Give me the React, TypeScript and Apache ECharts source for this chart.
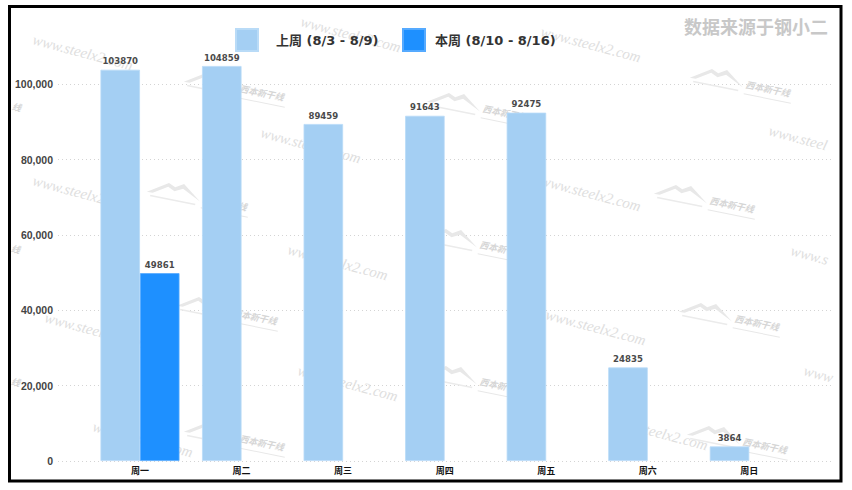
import React, { useEffect, useRef } from "react";
import * as echarts from "echarts";

const categories = ["周一", "周二", "周三", "周四", "周五", "周六", "周日"];
const lastWeekName = "上周 (8/3 - 8/9)";
const thisWeekName = "本周 (8/10 - 8/16)";
const lastWeek = [103870, 104859, 89459, 91643, 92475, 24835, 3864];
const thisWeek: (number | null)[] = [49861, null, null, null, null, null, null];
const yInterval = 20000;
const sourceNote = "数据来源于钢小二";
const watermarkText = "www.steelx2.com";
const watermarkLogoText = "西本新干线";

// [x, y, visible text]
const textMarks: [number, number, string][] = [
  [35, 32, watermarkText], [35, 173, watermarkText], [47, 310, watermarkText], [95, 419, watermarkText],
  [303, 14, watermarkText], [263, 125, watermarkText], [290, 242, watermarkText], [300, 363, watermarkText],
  [543, 24, watermarkText], [543, 173, watermarkText], [548, 307, watermarkText], [610, 412, watermarkText],
  [771, 123, "www.steel"], [793, 243, "www.s"], [806, 363, "www"],
  [13, 102, "线"], [12, 244, "线"], [12, 377, "线"],
];
const logoMarks: [number, number][] = [
  [187, 66], [150, 176], [180, 290], [187, 416],
  [430, 86], [427, 222], [427, 359],
  [693, 62], [657, 178], [682, 296], [690, 419],
];

function wmText(x: number, y: number, t: string) {
  const cjk = t === "线";
  return {
    type: "text", x, y, rotation: cjk ? -0.2 : -0.26, silent: true, z: 1,
    style: {
      text: t,
      font: cjk ? 'italic bold 9px "Noto Sans CJK SC", sans-serif' : 'italic 15px "Liberation Serif", serif',
      fill: cjk ? "#d6d6d6" : "#dedede",
    },
  };
}
function wmLogo(x: number, y: number) {
  return {
    type: "group", x, y, rotation: -0.2, silent: true, z: 1,
    children: [
      { type: "polygon", z: 1, shape: { points: [[0, 16], [20, 3], [27, 6], [35, 1], [54, 15], [35, 6], [27, 10], [20, 7], [6, 16]] }, style: { fill: "#e8e8e8" } },
      { type: "line", z: 1, shape: { x1: 4, y1: 19, x2: 50, y2: 19 }, style: { stroke: "#ebebeb", lineWidth: 1.5 } },
      { type: "text", z: 1, x: 56, y: 7, style: { text: watermarkLogoText, font: 'italic bold 9px "Noto Sans CJK SC", sans-serif', fill: "#d6d6d6" } },
      { type: "line", z: 1, shape: { x1: 56, y1: 21, x2: 104, y2: 21 }, style: { stroke: "#e8e8e8", lineWidth: 1 } },
    ],
  };
}

export default function App() {
  const ref = useRef<HTMLDivElement>(null);
  useEffect(() => {
    if (!ref.current) return;
    const chart = echarts.init(ref.current, null, { renderer: "svg" });
    const yMax = Math.max(...lastWeek, ...(thisWeek.filter((v) => v != null) as number[]));
    const labelStyle = {
      show: true,
      position: "top",
      distance: 4,
      fontSize: 9.5,
      fontWeight: "bold",
      color: "#4a4a4a",
      fontFamily: "'Liberation Sans Narrow', 'DejaVu Sans Condensed', sans-serif",
    };
    const legendText = {
      fontFamily: "'DejaVu Sans', 'Noto Sans CJK SC', sans-serif",
      fontWeight: "bold",
      fontSize: 13,
      color: "#333",
    };
    chart.setOption({
      animation: false,
      backgroundColor: "#fff",
      title: {
        text: sourceNote,
        right: 19,
        top: 12,
        textStyle: { fontSize: 18, fontWeight: "bold", color: "#c8c8c8", fontFamily: "'Noto Sans CJK SC', sans-serif" },
      },
      legend: [
        {
          data: [lastWeekName], left: 230, top: 23, itemWidth: 22, itemHeight: 22, icon: "rect",
          formatter: (n: string) => `{s|}{t|${n}}`,
          textStyle: { ...legendText, rich: { s: { width: 13 }, t: { ...legendText } } },
        },
        {
          data: [thisWeekName], left: 397, top: 23, itemWidth: 22, itemHeight: 22, icon: "rect",
          formatter: (n: string) => `{s|}{t|${n}}`,
          textStyle: { ...legendText, rich: { s: { width: 5 }, t: { ...legendText } } },
        },
      ],
      grid: [
        { left: 58, right: 21, top: 66, bottom: 29 },
        { left: 89.2, right: 51.95, top: 66, bottom: 29 },
      ],
      xAxis: [
        { gridIndex: 0, type: "value", show: false, min: 0, max: 1 },
        {
          gridIndex: 1, type: "category", data: categories,
          axisLine: { show: false }, axisTick: { show: false },
          axisLabel: { fontSize: 9, fontWeight: "bold", color: "#111", margin: 5, fontFamily: "'Noto Sans CJK SC', sans-serif" },
        },
      ],
      yAxis: [
        {
          gridIndex: 0, type: "value", min: 0, max: yMax, interval: yInterval,
          axisLine: { show: false }, axisTick: { show: false },
          axisLabel: {
            showMaxLabel: false, margin: 5, fontSize: 10.5, fontWeight: "bold", color: "#444",
            fontFamily: "'Liberation Sans', Arial, sans-serif",
            formatter: (v: number) => v.toLocaleString("en-US"),
          },
          splitLine: { show: true, showMaxLine: false, lineStyle: { color: "#d4d4d4", width: 1, type: [1, 3] } },
        },
        { gridIndex: 1, type: "value", min: 0, max: yMax, show: false, splitLine: { show: false } },
      ],
      series: [
        {
          name: lastWeekName, type: "bar", xAxisIndex: 1, yAxisIndex: 1, data: lastWeek,
          barWidth: 39.5, barGap: "0%", z: 2,
          itemStyle: { color: "#A4CFF3", borderColor: "#b9dbf7", borderWidth: 0.8 },
          label: labelStyle,
        },
        {
          name: thisWeekName, type: "bar", xAxisIndex: 1, yAxisIndex: 1, data: thisWeek,
          barWidth: 39.5, barGap: "0%", z: 2,
          itemStyle: { color: "#1E90FF", borderColor: "#55aaff", borderWidth: 0.8 },
          label: labelStyle,
        },
      ],
      graphic: [
        ...textMarks.map(([x, y, t]) => wmText(x, y, t)),
        ...logoMarks.map(([x, y]) => wmLogo(x, y)),
        { type: "rect", z: 100, silent: true, shape: { x: 0, y: 0, width: 8, height: 490 }, style: { fill: "#fff" } },
        { type: "rect", z: 100, silent: true, shape: { x: 0, y: 0, width: 852, height: 5 }, style: { fill: "#fff" } },
        { type: "rect", z: 100, silent: true, shape: { x: 843, y: 0, width: 9, height: 490 }, style: { fill: "#fff" } },
        { type: "rect", z: 100, silent: true, shape: { x: 0, y: 482.5, width: 852, height: 8 }, style: { fill: "#fff" } },
        { type: "rect", z: 101, silent: true, shape: { x: 9.5, y: 6.5, width: 831.5, height: 474.5 }, style: { fill: "none", stroke: "#000", lineWidth: 3 } },
      ],
    });
    return () => chart.dispose();
  }, []);
  return <div ref={ref} style={{ position: "fixed", left: 0, top: 0, width: 852, height: 490 }} />;
}
